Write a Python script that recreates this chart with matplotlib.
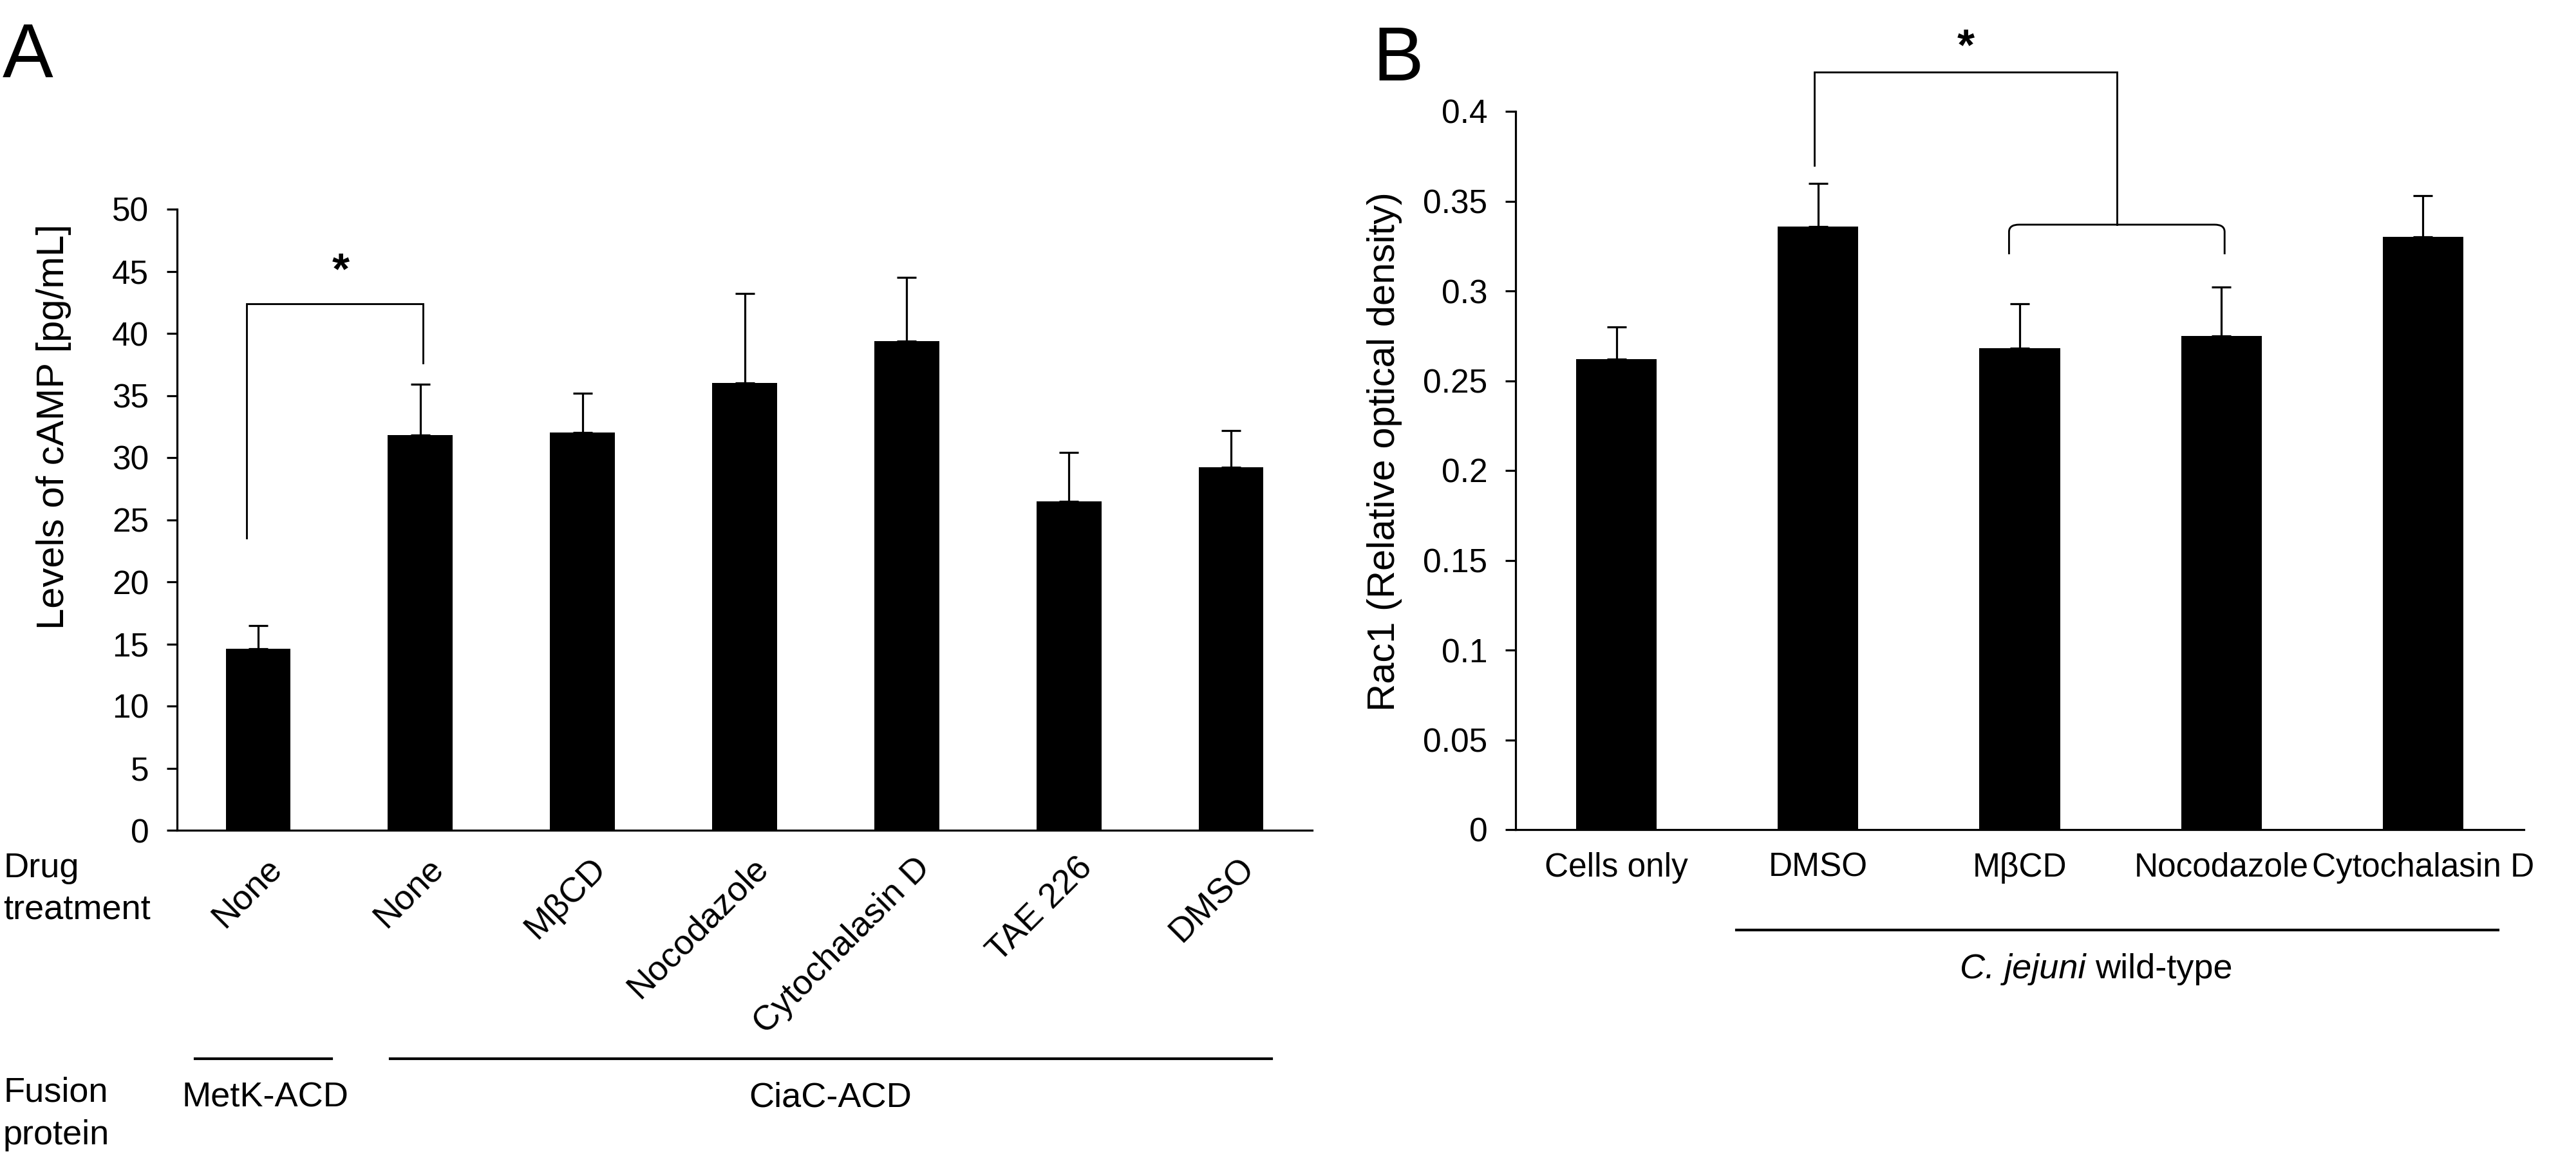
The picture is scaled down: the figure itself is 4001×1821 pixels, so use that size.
import numpy as np
import matplotlib
matplotlib.use('Agg')
import matplotlib.pyplot as plt
from matplotlib.path import Path
from matplotlib.patches import PathPatch
from matplotlib.transforms import ScaledTranslation, blended_transform_factory

plt.rcParams['font.family'] = ['Liberation Sans', 'DejaVu Sans']

# Panel A: cAMP levels
drugs_a = ['None', 'None', 'M\u03b2CD', 'Nocodazole', 'Cytochalasin D', 'TAE 226', 'DMSO']
camp_mean = [14.6, 31.8, 32.0, 36.0, 39.4, 26.5, 29.2]
camp_err = [1.9, 4.1, 3.2, 7.2, 5.1, 3.9, 3.0]
yticks_a = [0, 5, 10, 15, 20, 25, 30, 35, 40, 45, 50]

# Panel B: Rac1
drugs_b = ['Cells only', 'DMSO', 'M\u03b2CD', 'Nocodazole', 'Cytochalasin D']
rac1_mean = [0.262, 0.336, 0.268, 0.275, 0.330]
rac1_err = [0.018, 0.024, 0.025, 0.027, 0.023]
yticks_b = [0, 0.05, 0.1, 0.15, 0.2, 0.25, 0.3, 0.35, 0.4]
yticklabels_b = ['0', '0.05', '0.1', '0.15', '0.2', '0.25', '0.3', '0.35', '0.4']

W, H = 4001, 1821
fig = plt.figure(figsize=(W / 100, H / 100), dpi=100)

def fx(px):
    return px / W

def fy(py):
    return 1 - py / H

LW = 2.3
TICK_FS = 37
CAT_FS = 39

def style_axes(ax):
    for s in ['top', 'right']:
        ax.spines[s].set_visible(False)
    for s in ['left', 'bottom']:
        ax.spines[s].set_linewidth(LW)
    ax.tick_params(axis='y', direction='out', length=11.5, width=LW, labelsize=TICK_FS, pad=20)
    ax.tick_params(axis='x', length=0)

def draw_bars(ax, means, errs):
    x = np.arange(len(means))
    ax.bar(x, means, width=0.4, color='black', edgecolor='none', zorder=2)
    ax.errorbar(x, means, yerr=[np.zeros(len(errs)), errs], fmt='none',
                ecolor='black', elinewidth=LW, capsize=11, capthick=LW, zorder=3)
    ax.set_xlim(-0.5, len(means) - 0.5)

# ---------------- Panel A ----------------
axA = fig.add_axes([fx(275), fy(1290), fx(2038 - 275), (1290 - 325) / H])
style_axes(axA)
draw_bars(axA, camp_mean, camp_err)
axA.set_ylim(0, 50)
axA.set_yticks(yticks_a)
axA.set_yticklabels([str(v) for v in yticks_a])
axA.set_xticks(np.arange(len(drugs_a)))
axA.set_xticklabels(drugs_a, rotation=45, ha='right', va='top', fontsize=CAT_FS)
axA.tick_params(axis='x', pad=24)
for lab in axA.get_xticklabels():
    lab.set_transform(lab.get_transform() + ScaledTranslation(0.46, 0, fig.dpi_scale_trans))

# significance bracket A
axA.plot([-0.07, -0.07, 1.016, 1.016], [23.5, 42.4, 42.4, 37.6], color='black', lw=LW * 0.9,
         clip_on=False, solid_joinstyle='miter')
axA.text(0.508, 44.0, '*', ha='center', va='baseline', fontsize=50, fontweight='bold')

fig.text(fx(84), fy(663), 'Levels of cAMP [pg/mL]', rotation=90, ha='center', va='center', fontsize=43)

# row labels and groups
fig.text(fx(5), fy(1363), 'Drug', ha='left', va='baseline', fontsize=CAT_FS)
fig.text(fx(5), fy(1428), 'treatment', ha='left', va='baseline', fontsize=CAT_FS)
fig.text(fx(5), fy(1712), 'Fusion', ha='left', va='baseline', fontsize=CAT_FS)
fig.text(fx(5), fy(1778), 'protein', ha='left', va='baseline', fontsize=CAT_FS)

trA = blended_transform_factory(axA.transData, fig.transFigure)
axA.plot([-0.389, 0.453], [fy(1645)] * 2, color='black', lw=3, transform=trA, clip_on=False)
axA.plot([0.814, 6.249], [fy(1645)] * 2, color='black', lw=3, transform=trA, clip_on=False)
axA.text(0.044, fy(1720), 'MetK-ACD', ha='center', va='baseline', fontsize=CAT_FS, transform=trA)
axA.text(3.53, fy(1720), 'CiaC-ACD', ha='center', va='baseline', fontsize=CAT_FS, transform=trA)

fig.text(fx(4), fy(120), 'A', ha='left', va='baseline', fontsize=85)

# ---------------- Panel B ----------------
axB = fig.add_axes([fx(2354), fy(1289), fx(3920 - 2354), (1289 - 173) / H])
style_axes(axB)
draw_bars(axB, rac1_mean, rac1_err)
axB.set_ylim(0, 0.4)
axB.set_yticks(yticks_b)
axB.set_yticklabels(yticklabels_b)
axB.set_xticks(np.arange(len(drugs_b)))
axB.set_xticklabels(drugs_b, fontsize=37)
axB.tick_params(axis='x', pad=25)

# significance brackets B
axB.plot([0.981, 0.981, 2.483, 2.483], [0.3698, 0.4217, 0.4217, 0.3369], color='black',
         lw=LW * 0.9, clip_on=False, solid_joinstyle='miter')
xl, xr, ytop, ybot = 1.947, 3.016, 0.3369, 0.3204
dx, dy = 0.05, 0.004
verts = [(xl, ybot), (xl, ytop - dy), (xl, ytop), (xl + dx, ytop),
         (xr - dx, ytop), (xr, ytop), (xr, ytop - dy), (xr, ybot)]
codes = [Path.MOVETO, Path.LINETO, Path.CURVE3, Path.CURVE3,
         Path.LINETO, Path.CURVE3, Path.CURVE3, Path.LINETO]
axB.add_patch(PathPatch(Path(verts, codes), facecolor='none', edgecolor='black',
                        lw=LW * 0.9, clip_on=False))
axB.text(1.734, 0.429, '*', ha='center', va='baseline', fontsize=50, fontweight='bold')

fig.text(fx(2150), fy(702), 'Rac1 (Relative optical density)', rotation=90, ha='center',
         va='center', fontsize=43)

trB = blended_transform_factory(axB.transData, fig.transFigure)
axB.plot([0.594, 4.372], [fy(1445)] * 2, color='black', lw=3, transform=trB, clip_on=False)

# "C. jejuni wild-type": italic species name followed by upright text, centred as a whole
t_it = fig.text(0, fy(1520), 'C. jejuni', ha='left', va='baseline', fontsize=CAT_FS, style='italic')
t_rm = fig.text(0, fy(1520), 'wild-type', ha='left', va='baseline', fontsize=CAT_FS)
fig.canvas.draw()
w_it = t_it.get_window_extent().width
w_rm = t_rm.get_window_extent().width
gap = 15
x0 = 3256 - (w_it + gap + w_rm) / 2
t_it.set_x(fx(x0))
t_rm.set_x(fx(x0 + w_it + gap))

fig.text(fx(2132), fy(125), 'B', ha='left', va='baseline', fontsize=85)

fig.savefig('out.png', dpi=100, facecolor='white')
